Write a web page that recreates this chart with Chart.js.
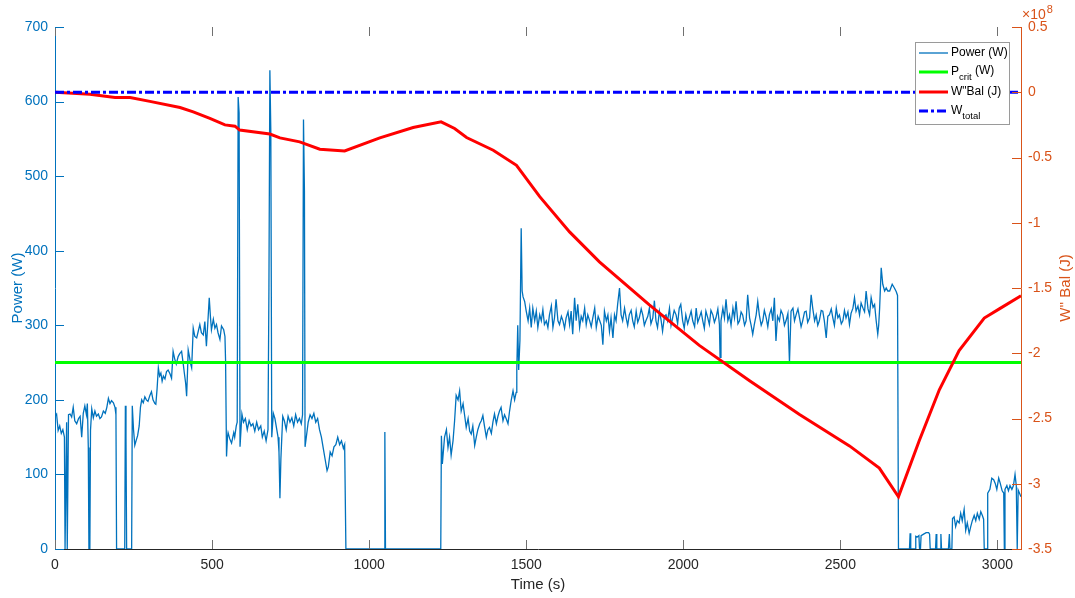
<!DOCTYPE html>
<html>
<head>
<meta charset="utf-8">
<script src="https://cdn.jsdelivr.net/npm/chart.js@4.4.1/dist/chart.umd.min.js"></script>
<style>
html, body { margin: 0; padding: 0; background: #fff; }
</style>
</head>
<body>
<canvas id="wbalChart" width="1075" height="598"></canvas>
<script>
// power trace, [time s, power W]
var powerSamples = [
  [0,178],[5,181],[10,159],[15,165],[20,155],[25,160],[30,150],[32,0],[35,0],[37,170],[39,0],[41,0],
  [43,180],[48,181],[53,177],[58,190],[63,172],[69,168],[75,175],[80,178],[85,150],[90,182],[95,192],
  [100,180],[103,195],[106,136],[108,0],[111,0],[113,159],[117,188],[122,176],[127,185],[132,178],
  [138,181],[143,175],[148,177],[154,185],[160,182],[165,190],[170,202],[175,195],[180,199],[186,196],
  [191,190],[194,180],[196,0],[222,0],[224,192],[226,150],[228,0],[244,0],[246,192],[250,160],[254,139],
  [258,145],[263,152],[268,165],[272,190],[276,200],[281,196],[286,204],[291,200],[296,198],[302,206],
  [307,211],[312,200],[318,195],[321,194],[325,215],[329,243],[333,232],[337,236],[341,225],[345,232],
  [350,228],[355,238],[360,240],[366,235],[371,229],[376,265],[381,255],[386,248],[392,258],[397,262],
  [403,265],[408,249],[412,235],[416,222],[419,205],[422,240],[424,267],[428,258],[432,248],[435,243],
  [440,296],[445,285],[451,283],[456,292],[461,301],[466,290],[472,287],[477,305],[482,272],[486,300],
  [491,337],[495,310],[498,294],[504,308],[509,296],[514,301],[519,290],[525,281],[530,299],[537,294],
  [541,285],[543,252],[546,124],[549,150],[551,156],[556,148],[562,142],[566,150],[569,156],[572,150],
  [577,165],[580,170],[583,606],[586,585],[589,137],[595,181],[600,170],[606,175],[612,160],[618,172],
  [624,165],[630,168],[636,158],[642,170],[648,160],[655,165],[660,150],[666,158],[672,145],[678,160],
  [681,350],[684,642],[687,560],[690,150],[695,182],[700,175],[706,160],[710,150],[713,130],[716,68],
  [719,120],[722,150],[725,178],[730,172],[736,160],[742,178],[748,170],[754,176],[760,165],[766,180],
  [772,170],[778,175],[784,168],[788,180],[791,576],[794,480],[796,137],[800,150],[806,170],[812,180],
  [818,175],[824,182],[830,170],[836,175],[842,160],[848,150],[854,135],[860,120],[866,105],[870,110],
  [876,130],[882,125],[888,137],[894,140],[900,150],[906,140],[912,145],[918,135],[922,140],[926,0],
  [1048,0],[1050,157],[1052,0],[1228,0],
  [1230,152],[1233,114],[1240,150],[1246,160],[1251,136],[1256,150],[1261,126],[1267,145],[1272,172],
  [1277,206],[1283,200],[1288,212],[1293,185],[1299,195],[1304,179],[1309,163],[1315,175],[1320,158],
  [1325,154],[1330,165],[1336,139],[1341,150],[1346,160],[1352,168],[1357,172],[1362,179],[1367,165],
  [1373,150],[1378,160],[1383,163],[1389,155],[1394,170],[1399,181],[1405,168],[1410,178],[1415,185],
  [1420,190],[1426,172],[1431,180],[1436,175],[1442,168],[1447,185],[1452,199],[1458,212],[1463,200],
  [1468,210],[1470,240],[1473,300],[1476,240],[1480,280],[1484,430],[1487,346],[1490,338],[1495,332],
  [1500,319],[1506,306],[1511,323],[1516,297],[1521,323],[1527,306],[1532,319],[1537,297],[1543,314],
  [1548,306],[1553,321],[1558,301],[1564,306],[1569,297],[1574,314],[1580,326],[1585,297],[1590,310],
  [1595,335],[1601,306],[1606,301],[1612,312],[1617,306],[1622,296],[1627,310],[1633,318],[1638,301],
  [1643,319],[1648,288],[1654,337],[1659,306],[1664,328],[1670,297],[1675,312],[1680,306],[1686,323],
  [1691,301],[1696,314],[1702,306],[1707,298],[1712,310],[1718,323],[1723,297],[1729,312],[1734,306],
  [1739,300],[1744,274],[1749,319],[1755,306],[1760,314],[1765,292],[1770,310],[1776,283],[1781,314],
  [1786,306],[1791,328],[1797,350],[1802,314],[1807,306],[1813,323],[1818,310],[1823,300],[1828,314],
  [1834,320],[1839,306],[1844,298],[1850,319],[1855,304],[1860,310],[1866,322],[1871,314],[1876,300],
  [1881,306],[1887,312],[1892,323],[1897,302],[1903,310],[1908,333],[1913,306],[1918,297],[1924,319],
  [1929,308],[1934,292],[1940,312],[1945,314],[1950,306],[1956,323],[1961,300],[1966,310],[1971,320],
  [1977,314],[1982,302],[1987,323],[1992,328],[1998,306],[2003,296],[2008,314],[2014,302],[2019,310],
  [2025,319],[2030,306],[2036,298],[2041,323],[2046,304],[2051,310],[2057,318],[2062,306],[2067,296],
  [2072,319],[2078,310],[2083,301],[2088,320],[2094,314],[2099,304],[2104,310],[2110,322],[2115,301],
  [2117,257],[2120,306],[2126,323],[2131,310],[2136,335],[2142,306],[2147,314],[2152,300],[2158,323],
  [2163,310],[2168,332],[2174,302],[2179,306],[2184,318],[2189,314],[2195,300],[2200,306],[2205,341],
  [2211,310],[2216,300],[2221,288],[2226,301],[2232,314],[2237,332],[2242,314],[2248,300],[2253,306],
  [2258,320],[2264,310],[2269,298],[2274,314],[2280,322],[2285,306],[2290,337],[2295,279],[2300,312],
  [2306,306],[2311,320],[2317,314],[2322,300],[2327,306],[2333,316],[2338,250],[2343,319],[2349,323],
  [2354,306],[2359,314],[2365,322],[2370,310],[2375,298],[2380,306],[2386,318],[2391,319],[2396,304],
  [2402,310],[2407,341],[2412,323],[2418,306],[2423,314],[2428,300],[2433,306],[2439,320],[2444,319],
  [2449,306],[2455,283],[2460,312],[2465,314],[2471,322],[2476,310],[2481,300],[2487,323],[2492,310],
  [2497,314],[2503,302],[2508,306],[2513,320],[2518,310],[2524,318],[2529,301],[2534,316],[2540,323],
  [2545,337],[2550,319],[2556,326],[2561,314],[2566,330],[2572,323],[2577,318],[2582,346],[2588,322],
  [2593,314],[2598,337],[2604,324],[2609,328],[2614,306],[2619,288],[2622,300],[2625,323],[2630,377],
  [2635,355],[2641,346],[2646,350],[2651,346],[2657,346],[2665,355],[2672,350],[2678,345],[2682,340],
  [2685,0],[2720,0],[2722,21],[2724,0],[2738,0],[2740,17],[2745,16],[2750,18],[2752,0],[2755,0],
  [2757,18],[2765,20],[2773,22],[2781,22],[2784,20],[2786,0],[2803,0],[2805,20],[2807,0],[2818,0],
  [2820,20],[2822,0],[2844,0],[2847,20],[2849,0],[2855,0],[2857,41],[2862,43],[2867,30],[2872,38],
  [2878,35],[2883,48],[2888,38],[2894,53],[2899,25],[2904,35],[2910,21],[2915,30],[2920,38],[2926,45],
  [2931,38],[2936,48],[2942,40],[2947,50],[2952,45],[2956,40],[2958,0],[2967,0],[2969,75],[2976,80],
  [2982,95],[2988,93],[2993,88],[2998,80],[3004,95],[3009,88],[3015,78],[3020,75],[3022,0],[3024,80],
  [3030,85],[3035,78],[3040,85],[3046,80],[3051,85],[3056,100],[3060,85],[3063,0],[3066,79],[3070,75],
  [3075,70]
];

// W'' balance, [time s, value x 10^8 J]
var wbalSamples = [
  [0,0],[111,-0.015],[191,-0.04],[239,-0.04],[302,-0.07],[398,-0.117],[440,-0.15],[493,-0.2],
  [541,-0.25],[573,-0.26],[588,-0.29],[684,-0.32],[716,-0.35],[779,-0.38],[843,-0.437],[922,-0.45],
  [1034,-0.35],[1140,-0.27],[1229,-0.227],[1272,-0.278],[1310,-0.347],[1395,-0.444],[1469,-0.56],
  [1543,-0.8],[1638,-1.07],[1733,-1.3],[1892,-1.63],[2051,-1.94],[2211,-2.21],[2370,-2.47],
  [2529,-2.71],[2624,-2.88],[2685,-3.1],[2751,-2.67],[2815,-2.28],[2878,-1.98],[2958,-1.73],
  [3006,-1.66],[3075,-1.56]
];

var pcritTime = [0, 3075];
var pcritWatts = [250, 250];
var wtotalTime = [0, 3075];
var wtotalValues = [0, 0];

var timeTicks = [0, 500, 1000, 1500, 2000, 2500, 3000];
var powerTicks = [0, 100, 200, 300, 400, 500, 600, 700];
var wbalTicks = [-3.5, -3, -2.5, -2, -1.5, -1, -0.5, 0, 0.5];

var blueAxis = '#0072BD';
var orangeAxis = '#D95319';
var greyAxis = '#262626';
var fontName = "'Liberation Sans', Arial, Helvetica, sans-serif";

function pairsToPoints(pairs) {
  return pairs.map(function(p) { return {x: p[0], y: p[1]}; });
}
function listsToPoints(xs, ys) {
  return xs.map(function(x, i) { return {x: x, y: ys[i]}; });
}
function fixedTicks(list) {
  return function(scale) {
    scale.ticks = list.map(function(v) { return {value: v}; });
  };
}
function plainLabel(v) { return String(v); }

// matlab-ish inward ticks, legend with subscripts, exponent and right title
var matlabLook = {
  id: 'matlabLook',
  afterDraw: function(chart) {
    var ctx = chart.ctx, a = chart.chartArea;
    var sx = chart.scales.x, sy = chart.scales.y, sy1 = chart.scales.y1;
    ctx.save();
    ctx.lineWidth = 1;

    ctx.strokeStyle = '#707070';
    sx.ticks.forEach(function(t) {
      var px = Math.round(sx.getPixelForValue(t.value)) + 0.5;
      ctx.beginPath();
      ctx.moveTo(px, a.bottom); ctx.lineTo(px, a.bottom - 9);
      ctx.moveTo(px, a.top); ctx.lineTo(px, a.top + 9);
      ctx.stroke();
    });
    ctx.strokeStyle = blueAxis;
    sy.ticks.forEach(function(t) {
      var py = Math.round(sy.getPixelForValue(t.value)) + 0.5;
      ctx.beginPath(); ctx.moveTo(a.left, py); ctx.lineTo(a.left + 9, py); ctx.stroke();
    });
    ctx.strokeStyle = orangeAxis;
    sy1.ticks.forEach(function(t) {
      var py = Math.round(sy1.getPixelForValue(t.value)) + 0.5;
      ctx.beginPath(); ctx.moveTo(a.right, py); ctx.lineTo(a.right - 9, py); ctx.stroke();
    });

    // exponent label
    ctx.fillStyle = orangeAxis;
    ctx.textBaseline = 'alphabetic';
    ctx.textAlign = 'left';
    ctx.font = '14px ' + fontName;
    ctx.fillText('\u00d710', 1022, 19);
    var w = ctx.measureText('\u00d710').width;
    ctx.font = '11px ' + fontName;
    ctx.fillText('8', 1022 + w + 1, 13);

    // right axis title, reads bottom to top
    ctx.save();
    ctx.translate(1066, (a.top + a.bottom) / 2);
    ctx.rotate(-Math.PI / 2);
    ctx.textAlign = 'center';
    ctx.textBaseline = 'middle';
    ctx.font = '15px ' + fontName;
    ctx.fillText('W\'\' Bal (J)', 0, 0);
    ctx.restore();

    // legend box
    var bx = 915, by = 42, bw = 94, bh = 82;
    ctx.fillStyle = '#ffffff';
    ctx.fillRect(bx, by, bw, bh);
    ctx.strokeStyle = '#9a9a9a';
    ctx.strokeRect(bx + 0.5, by + 0.5, bw, bh);
    var rows = [53, 72, 92, 111];
    chart.data.datasets.forEach(function(ds, i) {
      var y = rows[i];
      ctx.save();
      ctx.strokeStyle = ds.borderColor;
      ctx.lineWidth = ds.borderWidth;
      ctx.setLineDash(ds.borderDash || []);
      ctx.beginPath(); ctx.moveTo(919, y); ctx.lineTo(948, y); ctx.stroke();
      ctx.restore();
      var parts = ds.label.split('_');
      var tx = 951;
      ctx.fillStyle = '#000000';
      ctx.textAlign = 'left';
      ctx.textBaseline = 'middle';
      ctx.font = '12px ' + fontName;
      ctx.fillText(parts[0], tx, y);
      if (parts.length > 1) {
        tx += ctx.measureText(parts[0]).width;
        var m = parts[1].match(/^(\w+)(.*)$/);
        ctx.font = '9.5px ' + fontName;
        ctx.fillText(m[1], tx, y + 5);
        tx += ctx.measureText(m[1]).width;
        ctx.font = '12px ' + fontName;
        ctx.fillText(m[2], tx, y - 1);
      }
    });
    ctx.restore();
  }
};

var ctx = document.getElementById('wbalChart').getContext('2d');

var myChart = new Chart(ctx, {
  type: 'line',
  data: {
    datasets: [{
      label: 'Power (W)',
      data: pairsToPoints(powerSamples),
      borderColor: blueAxis,
      borderWidth: 1.3,
      yAxisID: 'y',
      order: 4
    }, {
      label: 'P_crit (W)',
      data: listsToPoints(pcritTime, pcritWatts),
      borderColor: '#00FF00',
      borderWidth: 3,
      yAxisID: 'y',
      order: 3
    }, {
      label: 'W"Bal (J)',
      data: pairsToPoints(wbalSamples),
      borderColor: '#FF0000',
      borderWidth: 3,
      yAxisID: 'y1',
      order: 2
    }, {
      label: 'W_total',
      data: listsToPoints(wtotalTime, wtotalValues),
      borderColor: '#0000FF',
      borderWidth: 3,
      borderDash: [9, 3, 3, 3],
      yAxisID: 'y1',
      order: 1
    }]
  },
  options: {
    responsive: false,
    animation: false,
    events: [],
    elements: { point: { radius: 0 }, line: { tension: 0 } },
    layout: { padding: { top: 27, left: 0, right: 0, bottom: 0 } },
    plugins: { legend: { display: false }, tooltip: { enabled: false } },
    scales: {
      x: {
        type: 'linear',
        min: 0,
        max: 3075,
        afterBuildTicks: fixedTicks(timeTicks),
        afterFit: function(s) { s.height = 49; },
        grid: { drawOnChartArea: false, drawTicks: false },
        border: { color: greyAxis, width: 1 },
        ticks: { color: greyAxis, padding: 8, maxRotation: 0, callback: plainLabel, font: { family: fontName, size: 14 } },
        title: { display: true, text: 'Time (s)', color: greyAxis, padding: { top: 5 }, font: { family: fontName, size: 15 } }
      },
      y: {
        position: 'left',
        min: 0,
        max: 700,
        afterBuildTicks: fixedTicks(powerTicks),
        afterFit: function(s) { s.width = 55; },
        grid: { drawOnChartArea: false, drawTicks: false },
        border: { color: blueAxis, width: 1 },
        ticks: { color: blueAxis, padding: 7, callback: plainLabel, font: { family: fontName, size: 14 } },
        title: { display: true, text: 'Power (W)', color: blueAxis, padding: { top: 9 }, font: { family: fontName, size: 15 } }
      },
      y1: {
        position: 'right',
        min: -3.5,
        max: 0.5,
        afterBuildTicks: fixedTicks(wbalTicks),
        afterFit: function(s) { s.width = 54; },
        grid: { drawOnChartArea: false, drawTicks: false },
        border: { color: orangeAxis, width: 1 },
        ticks: { color: orangeAxis, padding: 7, callback: plainLabel, font: { family: fontName, size: 14 } }
      }
    }
  },
  plugins: [matlabLook]
});
</script>
</body>
</html>
